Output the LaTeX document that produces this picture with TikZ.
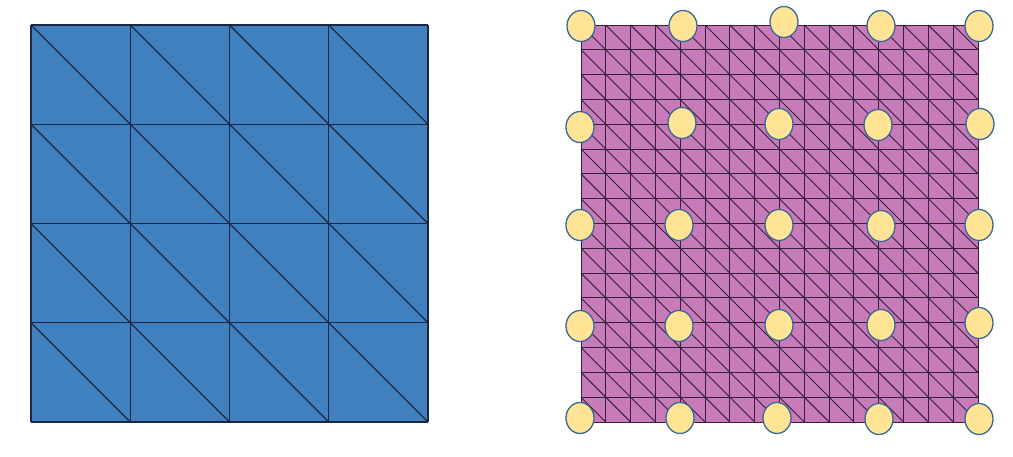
\documentclass[tikz,border=0pt]{standalone}
\usepackage{tikz}
\definecolor{meshblue}{RGB}{64,128,191}
\definecolor{meshpurple}{RGB}{199,124,185}
\definecolor{bluegrid}{RGB}{28,40,66}
\definecolor{purplegrid}{RGB}{55,30,58}
\definecolor{dotfill}{RGB}{255,228,150}
\definecolor{dotline}{RGB}{55,105,150}
\tikzset{
  bluemesh/.style={draw=bluegrid, line width=1.1pt},
  purplemesh/.style={draw=purplegrid, line width=0.95pt},
  dot/.style={fill=dotfill, draw=dotline, line width=1.3pt}
}
\begin{document}
\begin{tikzpicture}[x=1pt,y=-1pt]
\useasboundingbox (0,0) rectangle (1013,457);
% left mesh
\fill[meshblue] (31,25) rectangle (428,422);
\foreach \i in {0,...,4} {
  \pgfmathsetmacro{\p}{31+\i*99.25}
  \pgfmathsetmacro{\q}{25+\i*99.25}
  \draw[bluemesh] (\p,25) -- (\p,422);
  \draw[bluemesh] (31,\q) -- (428,\q);
}
\foreach \i in {0,...,3} {
  \foreach \j in {0,...,3} {
    \pgfmathsetmacro{\xa}{31+\i*99.25}
    \pgfmathsetmacro{\ya}{25+\j*99.25}
    \draw[bluemesh] (\xa,\ya) -- ++(99.25,99.25);
  }
}
% right mesh
\fill[meshpurple] (581,25) rectangle (978,422);
\foreach \i in {0,...,16} {
  \pgfmathsetmacro{\p}{581+\i*24.8125}
  \pgfmathsetmacro{\q}{25+\i*24.8125}
  \draw[purplemesh] (\p,25) -- (\p,422);
  \draw[purplemesh] (581,\q) -- (978,\q);
}
\foreach \i in {0,...,15} {
  \foreach \j in {0,...,15} {
    \pgfmathsetmacro{\xa}{581+\i*24.8125}
    \pgfmathsetmacro{\ya}{25+\j*24.8125}
    \draw[purplemesh] (\xa,\ya) -- ++(24.8125,24.8125);
  }
}
% dots
\foreach \cx/\cy in {
  581/26, 683/26, 784/22, 881/26, 979/26,
  580/127, 682/123, 779/124, 878/125, 980/124,
  580/225, 679/225, 779/225, 881/226, 979/225,
  580/326, 679/326, 779/325, 881/325, 979/323,
  580/418, 680/418, 777/418, 879/419, 979/419} {
  \draw[dot] (\cx,\cy) ellipse (14 and 15.5);
}
\end{tikzpicture}
\end{document}
